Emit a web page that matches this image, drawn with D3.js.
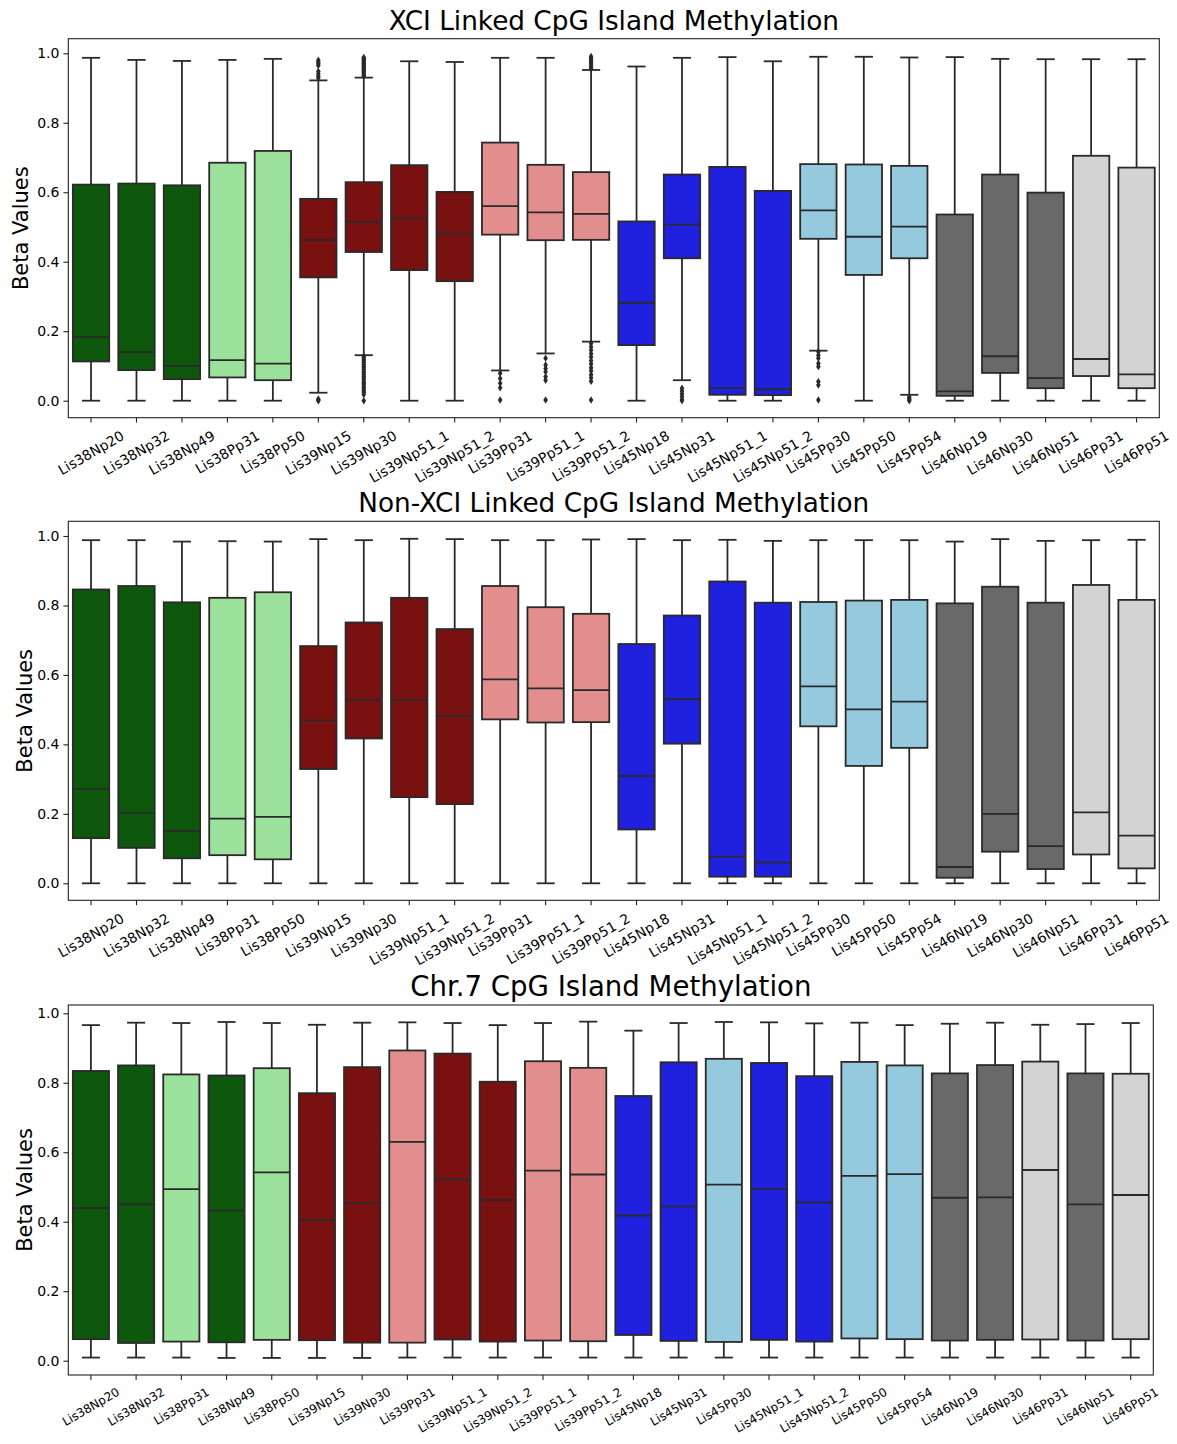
<!DOCTYPE html>
<html>
<head>
<meta charset="utf-8">
<script src="https://cdn.jsdelivr.net/npm/d3@7"></script>
<style>
  body { margin: 0; background: #fff; }
  svg { display: block; font-family: "DejaVu Sans", sans-serif; }
</style>
</head>
<body>
<div id="chart"></div>
<script>
// ---- data ----
var xciSamples = ["Lis38Np20", "Lis38Np32", "Lis38Np49", "Lis38Pp31", "Lis38Pp50", "Lis39Np15",
  "Lis39Np30", "Lis39Np51_1", "Lis39Np51_2", "Lis39Pp31", "Lis39Pp51_1", "Lis39Pp51_2",
  "Lis45Np18", "Lis45Np31", "Lis45Np51_1", "Lis45Np51_2", "Lis45Pp30", "Lis45Pp50",
  "Lis45Pp54", "Lis46Np19", "Lis46Np30", "Lis46Np51", "Lis46Pp31", "Lis46Pp51"];
var xciLow = [0, 0, 0, 0, 0, 0.023, 0.131, 0, 0, 0.087, 0.136, 0.170,
  0, 0.059, 0, 0, 0.144, 0, 0.017, 0, 0, 0, 0, 0];
var xciQ1 = [0.113, 0.088, 0.062, 0.067, 0.059, 0.355, 0.428, 0.376, 0.344, 0.478, 0.462, 0.463,
  0.160, 0.410, 0.017, 0.016, 0.466, 0.362, 0.410, 0.014, 0.080, 0.036, 0.071, 0.036];
var xciMedian = [0.183, 0.140, 0.100, 0.117, 0.107, 0.462, 0.514, 0.525, 0.481, 0.560, 0.542, 0.538,
  0.282, 0.507, 0.036, 0.033, 0.548, 0.472, 0.501, 0.027, 0.128, 0.065, 0.120, 0.076];
var xciQ3 = [0.622, 0.625, 0.620, 0.685, 0.719, 0.581, 0.629, 0.678, 0.601, 0.743, 0.679, 0.658,
  0.516, 0.651, 0.673, 0.604, 0.681, 0.680, 0.676, 0.536, 0.651, 0.599, 0.705, 0.671];
var xciHigh = [0.987, 0.981, 0.978, 0.981, 0.984, 0.922, 0.930, 0.977, 0.975, 0.987, 0.987, 0.952,
  0.962, 0.987, 0.989, 0.977, 0.990, 0.990, 0.988, 0.989, 0.984, 0.983, 0.983, 0.983];
var xciOutliers = [[], [], [], [], [],
  [0.980, 0.975, 0.970, 0.965, 0.948, 0.941, 0.935, 0.929, 0.005, 0.002, 0.0],
  [0.988, 0.985, 0.982, 0.979, 0.976, 0.973, 0.970, 0.967, 0.964, 0.961, 0.958, 0.955, 0.952, 0.949,
   0.946, 0.943, 0.940, 0.937, 0.934, 0.128, 0.124, 0.119, 0.115, 0.110, 0.104, 0.099, 0.095, 0.090,
   0.084, 0.080, 0.075, 0.069, 0.065, 0.060, 0.054, 0.050, 0.045, 0.039, 0.034, 0.029, 0.024, 0.018, 0.0],
  [], [],
  [0.079, 0.064, 0.050, 0.037, 0.002],
  [0.122, 0.103, 0.093, 0.083, 0.069, 0.059, 0.002],
  [0.991, 0.986, 0.981, 0.976, 0.971, 0.966, 0.961, 0.956, 0.165, 0.155, 0.146, 0.135, 0.126,
   0.115, 0.106, 0.095, 0.086, 0.075, 0.066, 0.056, 0.002],
  [],
  [0.036, 0.028, 0.020, 0.012, 0.004, 0.0],
  [], [],
  [0.141, 0.131, 0.122, 0.107, 0.098, 0.055, 0.045, 0.002],
  [],
  [0.011, 0.007, 0.003, 0.0],
  [], [], [], [], []];

var nonXciSamples = xciSamples.slice();
var nonXciLow = [0, 0, 0, 0, 0, 0, 0, 0, 0, 0, 0, 0, 0, 0, 0, 0, 0, 0, 0, 0, 0, 0, 0, 0];
var nonXciQ1 = [0.130, 0.102, 0.072, 0.081, 0.069, 0.329, 0.417, 0.248, 0.228, 0.472, 0.463, 0.464,
  0.155, 0.402, 0.019, 0.019, 0.452, 0.338, 0.390, 0.016, 0.091, 0.041, 0.083, 0.043];
var nonXciMedian = [0.272, 0.203, 0.150, 0.186, 0.191, 0.469, 0.528, 0.528, 0.482, 0.587, 0.561, 0.556,
  0.309, 0.530, 0.077, 0.060, 0.567, 0.501, 0.523, 0.047, 0.200, 0.107, 0.204, 0.137];
var nonXciQ3 = [0.846, 0.856, 0.809, 0.822, 0.838, 0.683, 0.751, 0.822, 0.732, 0.856, 0.795, 0.776,
  0.689, 0.771, 0.869, 0.808, 0.810, 0.814, 0.816, 0.806, 0.854, 0.808, 0.859, 0.816];
var nonXciHigh = [0.988, 0.988, 0.984, 0.985, 0.984, 0.991, 0.988, 0.992, 0.991, 0.988, 0.988, 0.990,
  0.991, 0.988, 0.989, 0.986, 0.988, 0.988, 0.988, 0.984, 0.991, 0.986, 0.988, 0.989];

var chr7Samples = ["Lis38Np20", "Lis38Np32", "Lis38Pp31", "Lis38Np49", "Lis38Pp50", "Lis39Np15",
  "Lis39Np30", "Lis39Pp31", "Lis39Np51_1", "Lis39Np51_2", "Lis39Pp51_1", "Lis39Pp51_2",
  "Lis45Np18", "Lis45Np31", "Lis45Pp30", "Lis45Np51_1", "Lis45Np51_2", "Lis45Pp50",
  "Lis45Pp54", "Lis46Np19", "Lis46Np30", "Lis46Pp31", "Lis46Np51", "Lis46Pp51"];
var chr7Low = [0.009, 0.009, 0.009, 0.008, 0.008, 0.008, 0.008, 0.009, 0.009, 0.009, 0.009, 0.009,
  0.009, 0.009, 0.009, 0.009, 0.009, 0.009, 0.009, 0.009, 0.009, 0.009, 0.009, 0.009];
var chr7Q1 = [0.062, 0.051, 0.055, 0.053, 0.060, 0.059, 0.052, 0.052, 0.061, 0.055, 0.058, 0.056,
  0.074, 0.057, 0.054, 0.060, 0.055, 0.064, 0.062, 0.058, 0.060, 0.061, 0.058, 0.062];
var chr7Median = [0.439, 0.450, 0.494, 0.433, 0.542, 0.405, 0.453, 0.630, 0.522, 0.463, 0.547, 0.536,
  0.418, 0.444, 0.507, 0.494, 0.456, 0.532, 0.537, 0.469, 0.470, 0.549, 0.450, 0.477];
var chr7Q3 = [0.834, 0.850, 0.824, 0.821, 0.842, 0.770, 0.845, 0.893, 0.884, 0.803, 0.862, 0.843,
  0.762, 0.859, 0.869, 0.857, 0.819, 0.860, 0.850, 0.827, 0.851, 0.861, 0.827, 0.826];
var chr7High = [0.966, 0.973, 0.972, 0.975, 0.972, 0.967, 0.973, 0.974, 0.972, 0.966, 0.972, 0.976,
  0.950, 0.972, 0.975, 0.974, 0.971, 0.973, 0.966, 0.970, 0.973, 0.967, 0.969, 0.972];

var yTicks = [0, 0.2, 0.4, 0.6, 0.8, 1.0];

// seaborn-desaturated group colours
var groupColors = {
  "Lis38N": "#0d580d", "Lis38P": "#9ce29c",
  "Lis39N": "#7a1111", "Lis39P": "#e28e8e",
  "Lis45N": "#2020df", "Lis45P": "#94c9de",
  "Lis46N": "#696969", "Lis46P": "#d3d3d3"
};

var lineColor = "#2a2a2a";

var panels = [
  {title: "XCI Linked CpG Island Methylation", samples: xciSamples, low: xciLow, q1: xciQ1,
   median: xciMedian, q3: xciQ3, high: xciHigh, outliers: xciOutliers,
   left: 68.3, right: 1159.3, top: 38.7, bottom: 417.7, y0: 400.7, y1: 53.3,
   titleY: 29.5, titleSize: 26.3, labelX: 28, xTickSize: 13.9},
  {title: "Non-XCI Linked CpG Island Methylation", samples: nonXciSamples, low: nonXciLow, q1: nonXciQ1,
   median: nonXciMedian, q3: nonXciQ3, high: nonXciHigh, outliers: null,
   left: 68.3, right: 1159.3, top: 521.3, bottom: 900.3, y0: 883.3, y1: 536,
   titleY: 512.3, titleSize: 26.3, labelX: 31.5, xTickSize: 13.9},
  {title: "Chr.7 CpG Island Methylation", samples: chr7Samples, low: chr7Low, q1: chr7Q1,
   median: chr7Median, q3: chr7Q3, high: chr7High, outliers: null,
   left: 68.3, right: 1153.3, top: 1005, bottom: 1375, y0: 1360.7, y1: 1013.3,
   titleY: 996, titleSize: 27.6, labelX: 31.5, xTickSize: 12}
];

var svg = d3.select("#chart").append("svg")
  .attr("width", 1177)
  .attr("height", 1444);

svg.append("rect")
  .attr("width", 1177)
  .attr("height", 1444)
  .attr("fill", "#fff");

var drawPanel = function (p) {
  var x = d3.scaleBand()
    .domain(p.samples)
    .range([p.left, p.right]);

  var y = d3.scaleLinear()
    .domain([0, 1])
    .range([p.y0, p.y1]);

  var boxW = x.bandwidth() * 0.8;

  var rows = p.samples.map(function (s, i) {
    return {
      name: s, low: p.low[i], q1: p.q1[i], median: p.median[i], q3: p.q3[i], high: p.high[i],
      outliers: p.outliers ? p.outliers[i] : [],
      color: groupColors[s.slice(0, 6)]
    };
  });

  var g = svg.append("g");

  var box = g.selectAll(".box")
    .data(rows)
    .enter().append("g")
    .attr("class", "box")
    .attr("transform", function (d) {
      return "translate(" + (x(d.name) + x.bandwidth() / 2) + ",0)";
    });

  // whiskers
  box.append("line")
    .attr("y1", function (d) { return y(d.q3); })
    .attr("y2", function (d) { return y(d.high); })
    .attr("stroke", lineColor).attr("stroke-width", 1.8);
  box.append("line")
    .attr("y1", function (d) { return y(d.q1); })
    .attr("y2", function (d) { return y(d.low); })
    .attr("stroke", lineColor).attr("stroke-width", 1.8);

  // caps
  box.append("line")
    .attr("x1", -boxW / 4).attr("x2", boxW / 4)
    .attr("y1", function (d) { return y(d.high); })
    .attr("y2", function (d) { return y(d.high); })
    .attr("stroke", lineColor).attr("stroke-width", 1.8);
  box.append("line")
    .attr("x1", -boxW / 4).attr("x2", boxW / 4)
    .attr("y1", function (d) { return y(d.low); })
    .attr("y2", function (d) { return y(d.low); })
    .attr("stroke", lineColor).attr("stroke-width", 1.8);

  box.append("rect")
    .attr("x", -boxW / 2)
    .attr("width", boxW)
    .attr("y", function (d) { return y(d.q3); })
    .attr("height", function (d) { return y(d.q1) - y(d.q3); })
    .attr("fill", function (d) { return d.color; })
    .attr("stroke", lineColor)
    .attr("stroke-width", 1.8);

  box.append("line")
    .attr("x1", -boxW / 2).attr("x2", boxW / 2)
    .attr("y1", function (d) { return y(d.median); })
    .attr("y2", function (d) { return y(d.median); })
    .attr("stroke", lineColor).attr("stroke-width", 1.8);

  // outliers as thin diamonds
  box.selectAll(".flier")
    .data(function (d) { return d.outliers; })
    .enter().append("path")
    .attr("class", "flier")
    .attr("d", function (v) {
      var cy = y(v);
      return "M0," + (cy - 3.7) + "L2.3," + cy + "L0," + (cy + 3.7) + "L-2.3," + cy + "Z";
    })
    .attr("fill", lineColor);

  // frame
  g.append("rect")
    .attr("x", p.left).attr("y", p.top)
    .attr("width", p.right - p.left).attr("height", p.bottom - p.top)
    .attr("fill", "none")
    .attr("stroke", "#222")
    .attr("stroke-width", 1.1);

  // y axis
  var yAxis = g.append("g")
    .attr("transform", "translate(" + p.left + ",0)")
    .call(d3.axisLeft(y).tickValues(yTicks).tickFormat(d3.format(".1f"))
      .tickSize(4.9).tickPadding(4));
  yAxis.select(".domain").remove();
  yAxis.attr("font-family", null).attr("font-size", 14);
  yAxis.selectAll("line").attr("stroke", "#222").attr("stroke-width", 1.1);
  yAxis.selectAll("text").attr("fill", "#000");

  // x axis, labels rotated 30deg with their box hanging below the tick
  var xAxis = g.append("g")
    .attr("transform", "translate(0," + p.bottom + ")")
    .call(d3.axisBottom(x).tickSize(4.9).tickSizeOuter(0));
  xAxis.select(".domain").remove();
  xAxis.attr("font-family", null).attr("font-size", p.xTickSize);
  xAxis.selectAll("line").attr("stroke", "#222").attr("stroke-width", 1.1);
  xAxis.selectAll("text")
    .attr("fill", "#000")
    .attr("text-anchor", "middle")
    .each(function () {
      var w = this.getComputedTextLength();
      var h = 1.164 * p.xTickSize;
      var cy = 4.9 + 4.9 + (w * 0.5 + h * 0.866) / 2;
      d3.select(this)
        .attr("x", 0).attr("y", 0).attr("dy", "0.346em")
        .attr("transform", "translate(0," + cy + ") rotate(-30)");
    });

  // title + y label
  svg.append("text")
    .attr("x", (p.left + p.right) / 2)
    .attr("y", p.titleY)
    .attr("text-anchor", "middle")
    .attr("font-size", p.titleSize)
    .attr("fill", "#000")
    .text(p.title);

  svg.append("text")
    .attr("transform", "translate(" + p.labelX + "," + ((p.top + p.bottom) / 2) + ") rotate(-90)")
    .attr("text-anchor", "middle")
    .attr("font-size", 21)
    .attr("fill", "#000")
    .text("Beta Values");
};

panels.forEach(drawPanel);
</script>
</body>
</html>
